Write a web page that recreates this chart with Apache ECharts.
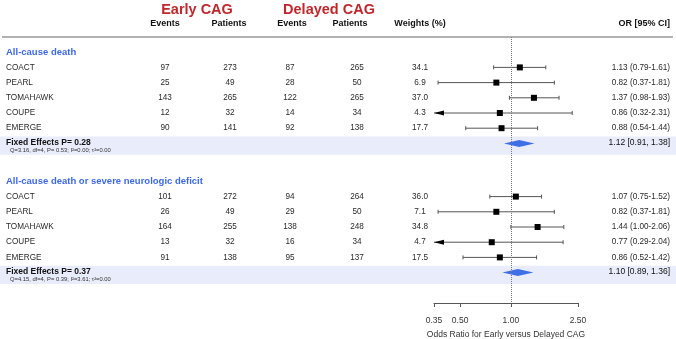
<!DOCTYPE html>
<html>
<head>
<meta charset="utf-8">
<script src="https://cdn.jsdelivr.net/npm/echarts@6/dist/echarts.min.js"></script>
<style>
  html, body { margin: 0; padding: 0; background: #fff; }
  #forest { width: 676px; height: 339px; }
</style>
</head>
<body>
<div id="forest"></div>
<script>
// studies (same in both outcomes)
const studies = ['COACT', 'PEARL', 'TOMAHAWK', 'COUPE', 'EMERGE'];

// all-cause death
const deathEarlyEvents = [97, 25, 143, 12, 90];
const deathEarlyPatients = [273, 49, 265, 32, 141];
const deathDelayedEvents = [87, 28, 122, 14, 92];
const deathDelayedPatients = [265, 50, 265, 34, 138];
const deathWeights = ['34.1', '6.9', '37.0', '4.3', '17.7'];
const deathOR = [1.13, 0.82, 1.37, 0.86, 0.88];
const deathLow = [0.79, 0.37, 0.98, 0.32, 0.54];
const deathHigh = [1.61, 1.81, 1.93, 2.31, 1.44];
const deathPooled = [1.12, 0.91, 1.38];
const deathPooledP = '0.28';
const deathHetero = 'Q=3.16, df=4, P= 0.53; I\u00b2=0.00; \u03c4\u00b2=0.00';

// all-cause death or severe neurologic deficit
const neuroEarlyEvents = [101, 26, 164, 13, 91];
const neuroEarlyPatients = [272, 49, 255, 32, 138];
const neuroDelayedEvents = [94, 29, 138, 16, 95];
const neuroDelayedPatients = [264, 50, 248, 34, 137];
const neuroWeights = ['36.0', '7.1', '34.8', '4.7', '17.5'];
const neuroOR = [1.07, 0.82, 1.44, 0.77, 0.86];
const neuroLow = [0.75, 0.37, 1.00, 0.29, 0.52];
const neuroHigh = [1.52, 1.81, 2.06, 2.04, 1.42];
const neuroPooled = [1.10, 0.89, 1.36];
const neuroPooledP = '0.37';
const neuroHetero = 'Q=4.15, df=4, P= 0.39; I\u00b2=3.61; \u03c4\u00b2=0.00';

// axis ticks
const tickValues = [0.35, 0.5, 1, 2.5];
const axisMin = 0.35, axisMax = 2.5;

// build row table: each section = heading, 5 studies, pooled
const rows = [];
function addSection(start, title, ee, ep, de, dp, w, or, lo, hi, pooled, p, het) {
  rows.push({ kind: 'head', y: start, text: title });
  studies.forEach((s, i) => {
    rows.push({ kind: 'study', y: start + 1 + i, name: s, ee: ee[i], ep: ep[i], de: de[i], dp: dp[i], w: w[i], or: or[i], lo: lo[i], hi: hi[i] });
  });
  rows.push({ kind: 'pooled', y: start + 6, or: pooled[0], lo: pooled[1], hi: pooled[2], p: p, het: het });
}
addSection(0, 'All-cause death', deathEarlyEvents, deathEarlyPatients, deathDelayedEvents, deathDelayedPatients,
  deathWeights, deathOR, deathLow, deathHigh, deathPooled, deathPooledP, deathHetero);
addSection(8.5, 'All-cause death or severe neurologic deficit', neuroEarlyEvents, neuroEarlyPatients, neuroDelayedEvents, neuroDelayedPatients,
  neuroWeights, neuroOR, neuroLow, neuroHigh, neuroPooled, neuroPooledP, neuroHetero);

const FONT = '"Liberation Sans", Arial, sans-serif';
const colX = { ee: 165, ep: 230, de: 290, dp: 357, w: 420, or: 670 };

function txt(x, y, text, o) {
  return {
    type: 'text', x: x, y: y,
    style: Object.assign({ text: text, fill: '#2a2a2a', fontFamily: FONT, fontSize: 8.2, align: 'center', verticalAlign: 'middle' }, o || {})
  };
}
function header(x, y, text, align) {
  return { type: 'text', x: x, y: y, style: { text: text, fill: '#111', fontSize: 9, fontWeight: 'bold', fontFamily: FONT, align: align || 'center', verticalAlign: 'middle' } };
}

const chart = echarts.init(document.getElementById('forest'), null, { renderer: 'canvas' });

const option = {
  animation: false,
  backgroundColor: '#fff',
  grid: { left: 434, right: 98, top: 37, bottom: 36, outerBoundsMode: 'none', containLabel: false },
  xAxis: {
    type: 'log',
    position: 'bottom',
    min: axisMin,
    max: axisMax,
    axisLine: { show: true, onZero: false, lineStyle: { color: '#555', width: 1 } },
    axisTick: { show: true, length: 4, customValues: tickValues, lineStyle: { color: '#555' } },
    axisLabel: { customValues: tickValues, formatter: v => Number(v).toFixed(2), fontSize: 8.5, color: '#333', fontFamily: FONT, margin: 13 },
    splitLine: { show: false },
    name: 'Odds Ratio for Early versus Delayed CAG',
    nameLocation: 'middle',
    nameGap: 27,
    nameTextStyle: { fontSize: 8.5, color: '#333', fontFamily: FONT }
  },
  yAxis: { type: 'value', inverse: true, min: -1, max: 16.5, show: false },
  graphic: [
    { type: 'text', x: 197, y: 10, style: { text: 'Early CAG', fill: '#c0272d', fontSize: 14.5, fontWeight: 'bold', fontFamily: FONT, align: 'center', verticalAlign: 'middle' } },
    { type: 'text', x: 329, y: 10, style: { text: 'Delayed CAG', fill: '#c0272d', fontSize: 14.5, fontWeight: 'bold', fontFamily: FONT, align: 'center', verticalAlign: 'middle' } },
    header(165, 24, 'Events'),
    header(229, 24, 'Patients'),
    header(292, 24, 'Events'),
    header(350, 24, 'Patients'),
    header(420, 24, 'Weights (%)'),
    header(670, 24, 'OR [95% CI]', 'right'),
    { type: 'line', shape: { x1: 2, y1: 37, x2: 673, y2: 37 }, style: { stroke: '#999', lineWidth: 1.5 }, z: 1 }
  ],
  series: [
    {
      // shaded bands behind pooled rows
      type: 'custom',
      z: 1,
      silent: true,
      data: rows.filter(r => r.kind === 'pooled').map(r => [1, r.y]),
      renderItem: (params, api) => {
        const y0 = api.coord([1, api.value(1) - 0.45])[1];
        const y1 = api.coord([1, api.value(1) + 0.75])[1];
        return { type: 'rect', shape: { x: 0, y: y0, width: api.getWidth(), height: y1 - y0 }, style: { fill: '#e9ecfa' } };
      }
    },
    {
      // table text
      type: 'custom',
      z: 3,
      silent: true,
      data: rows.map((r, i) => [1, r.y, i]),
      renderItem: (params, api) => {
        const r = rows[api.value(2)];
        const y = api.coord([1, api.value(1)])[1];
        const kids = [];
        if (r.kind === 'head') {
          kids.push(txt(6, y, r.text, { align: 'left', fill: '#3d68e8', fontWeight: 'bold', fontSize: 9.5 }));
        } else if (r.kind === 'study') {
          kids.push(txt(6, y, r.name, { align: 'left' }));
          kids.push(txt(colX.ee, y, String(r.ee)));
          kids.push(txt(colX.ep, y, String(r.ep)));
          kids.push(txt(colX.de, y, String(r.de)));
          kids.push(txt(colX.dp, y, String(r.dp)));
          kids.push(txt(colX.w, y, r.w));
          kids.push(txt(colX.or, y, r.or.toFixed(2) + ' (' + r.lo.toFixed(2) + '-' + r.hi.toFixed(2) + ')', { align: 'right' }));
        } else {
          kids.push(txt(6, y - 1, 'Fixed Effects P= ' + r.p, { align: 'left', fontWeight: 'bold', fontSize: 8.5, fill: '#111' }));
          kids.push(txt(10, y + 7, r.het, { align: 'left', fontSize: 5.8, fill: '#333' }));
          kids.push(txt(colX.or, y - 1, r.or.toFixed(2) + ' [' + r.lo.toFixed(2) + ', ' + r.hi.toFixed(2) + ']', { align: 'right', fontSize: 8.5, fill: '#111' }));
        }
        return { type: 'group', children: kids };
      }
    },
    {
      // study CIs and point estimates
      type: 'custom',
      z: 4,
      clip: false,
      data: rows.filter(r => r.kind === 'study').map(r => [r.or, r.y, r.lo, r.hi]),
      renderItem: (params, api) => {
        const c = api.coord([api.value(0), api.value(1)]);
        const loClipped = api.value(2) < axisMin;
        const hiClipped = api.value(3) > axisMax;
        const xl = api.coord([Math.max(api.value(2), axisMin), api.value(1)])[0];
        const xh = api.coord([Math.min(api.value(3), axisMax), api.value(1)])[0];
        const y = c[1];
        const stroke = { stroke: '#555', lineWidth: 1 };
        const kids = [
          { type: 'line', shape: { x1: xl, y1: y, x2: xh, y2: y }, style: stroke }
        ];
        if (loClipped) {
          kids.push({ type: 'polygon', shape: { points: [[xl, y], [xl + 10, y - 2.5], [xl + 10, y + 2.5]] }, style: { fill: '#000' } });
        } else {
          kids.push({ type: 'line', shape: { x1: xl, y1: y - 2, x2: xl, y2: y + 2 }, style: stroke });
        }
        if (hiClipped) {
          kids.push({ type: 'polygon', shape: { points: [[xh, y], [xh - 10, y - 2.5], [xh - 10, y + 2.5]] }, style: { fill: '#000' } });
        } else {
          kids.push({ type: 'line', shape: { x1: xh, y1: y - 2, x2: xh, y2: y + 2 }, style: stroke });
        }
        kids.push({ type: 'rect', shape: { x: c[0] - 3, y: y - 3, width: 6, height: 6 }, style: { fill: '#000' } });
        return { type: 'group', children: kids };
      },
      markLine: {
        silent: true,
        symbol: 'none',
        label: { show: false },
        lineStyle: { type: 'dotted', color: '#777', width: 1 },
        data: [{ xAxis: 1 }]
      }
    },
    {
      // pooled diamonds
      type: 'custom',
      z: 4,
      data: rows.filter(r => r.kind === 'pooled').map(r => [r.or, r.y, r.lo, r.hi]),
      renderItem: (params, api) => {
        const c = api.coord([api.value(0), api.value(1)]);
        const xl = api.coord([api.value(2), api.value(1)])[0];
        const xh = api.coord([api.value(3), api.value(1)])[0];
        return {
          type: 'polygon',
          shape: { points: [[xl, c[1]], [c[0], c[1] - 3.5], [xh, c[1]], [c[0], c[1] + 3.5]] },
          style: { fill: '#3f6fe6' }
        };
      }
    }
  ]
};

chart.setOption(option);
</script>
</body>
</html>
